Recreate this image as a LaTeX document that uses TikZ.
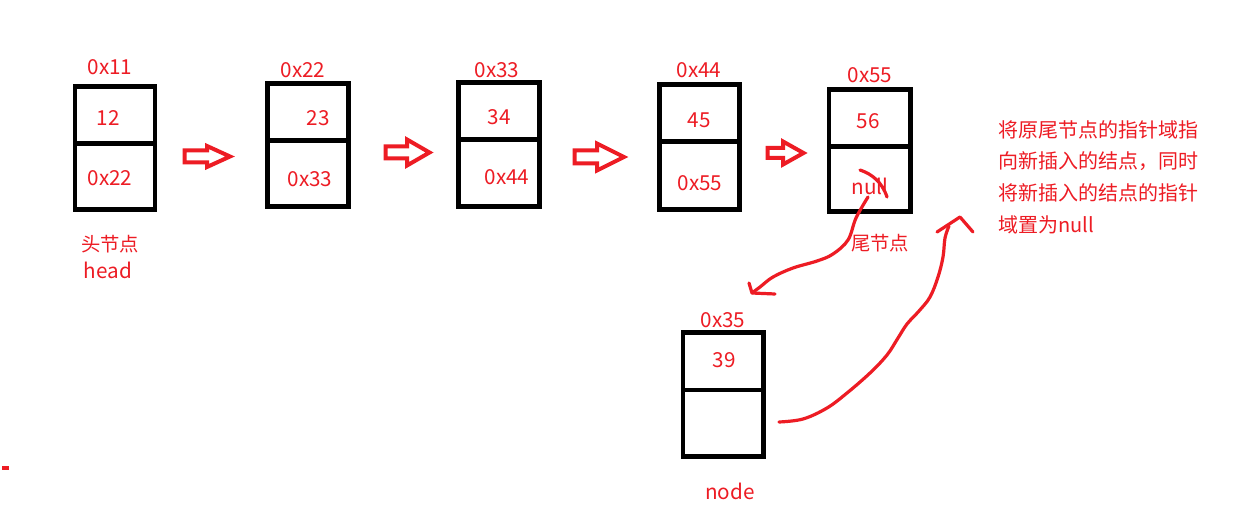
\documentclass[tikz,border=0pt]{standalone}
\usepackage{fontspec}
\setmainfont{Noto Sans CJK SC}
\begin{document}
\begin{tikzpicture}[x=0.75pt,y=-0.75pt,
  box/.style={draw=black,line width=3.4pt},
  lbl/.style={text=pred,font=\fontsize{15.5}{18}\selectfont,inner sep=0pt},
  cjk/.style={text=pred,font=\fontsize{14.5}{17}\selectfont,inner sep=0pt},
  blk/.style={draw=pred,line width=3pt,line join=miter},
  stroke/.style={draw=pred,line width=2.4pt,line cap=round,line join=round}]
\definecolor{pred}{RGB}{237,28,36}
\useasboundingbox (0,0) rectangle (1234,513);
\fill[white] (0,0) rectangle (1234,513);
% list node macro: name, xl, xr, yt, yd, yb
\newcommand\listcell[6]{%
  \draw[box] (#2,#4) rectangle (#3,#6);
  \draw[box] (#2,#5) -- (#3,#5);
  \coordinate (#1w) at (#2,{(#4+#6)/2});
  \coordinate (#1e) at (#3,{(#4+#6)/2});
}
\listcell{n1}{75}{155}{86.5}{143.5}{209.5}
\listcell{n2}{267.5}{348.5}{83.5}{140.5}{206.5}
\listcell{n3}{458.5}{539.5}{82.5}{139.5}{206.5}
\listcell{n4}{659.5}{739.5}{84.5}{141.5}{209.5}
\listcell{n5}{829}{910.5}{89.5}{146.5}{211.5}
\listcell{nn}{683}{763.5}{332.5}{390}{456.5}
% labels
\node[lbl] (a1) at (110,67) {0x11};
\node[lbl] (d1) at (108,118) {12};
\node[lbl] (p1) at (110,178) {0x22};
\node[cjk] (h1) at (110,244) {头节点};
\node[lbl] (h2) at (108,270) {head};
\node[lbl] (a2) at (303,70) {0x22};
\node[lbl] (d2) at (318,118) {23};
\node[lbl] (p2) at (310,179) {0x33};
\node[lbl] (a3) at (497,70) {0x33};
\node[lbl] (d3) at (499,117) {34};
\node[lbl] (p3) at (507,177) {0x44};
\node[lbl] (a4) at (699,70) {0x44};
\node[lbl] (d4) at (699,120) {45};
\node[lbl] (p4) at (700,183) {0x55};
\node[lbl] (a5) at (870,75) {0x55};
\node[lbl] (d5) at (868,121) {56};
\node[lbl] (p5) at (870,186) {null};
\node[cjk] (t5) at (880,243) {尾节点};
\node[lbl] (an) at (723,320) {0x35};
\node[lbl] (dn) at (724,360) {39};
\node[lbl] (ln) at (730,491) {node};
\node[cjk,font=\fontsize{15}{23.8}\selectfont,align=left,anchor=north west] (note) at (998,120)
  {将原尾节点的指针域指\\向新插入的结点，同时\\将新插入的结点的指针\\域置为null};
% block arrows
\newcommand\blockarrow[6]{% xl, xm, xt, yc, shafthalf, headhalf
  \draw[blk] (#1,#4-#5) -- (#2,#4-#5) -- (#2,#4-#6) -- (#3,#4) -- (#2,#4+#6) -- (#2,#4+#5) -- (#1,#4+#5) -- cycle;}
\blockarrow{184.5}{207}{230}{156.5}{6}{10.5}
\blockarrow{385.5}{407}{429.5}{152.5}{6}{13}
\blockarrow{574.5}{597}{624}{157}{6.5}{13.5}
\blockarrow{767.5}{783}{803.5}{153}{5}{11.5}
% strike over null
\coordinate (s1) at (860,170);
\coordinate (s2) at (887,197);
\draw[stroke] (s1) .. controls (872,174) and (882,182) .. (s2);
% curve from tail to new node
\coordinate (c1) at (868,197);
\coordinate (c2) at (752,293);
\draw[stroke] plot[smooth,tension=0.6] coordinates {(868,197) (856,218) (848,240) (833,254) (817,261) (793,268) (773,277) (760,287) (752,293)};
\draw[stroke] (749,283) -- (c2) -- (775,294);
% curve from new node back up
\coordinate (e1) at (779,422);
\coordinate (e2) at (960,217);
\draw[stroke] plot[smooth,tension=0.6] coordinates {(779,422) (803,419) (827,408) (847,393) (870,373) (887,355) (898,338) (907,324) (919,311) (930,297) (938,277) (943,257) (945,238) (949,226)};
\draw[stroke] (937,232) -- (e2) -- (973,232);
% stray mark
\fill[pred] (2,466) rectangle (9,469.5);
\end{tikzpicture}
\end{document}
